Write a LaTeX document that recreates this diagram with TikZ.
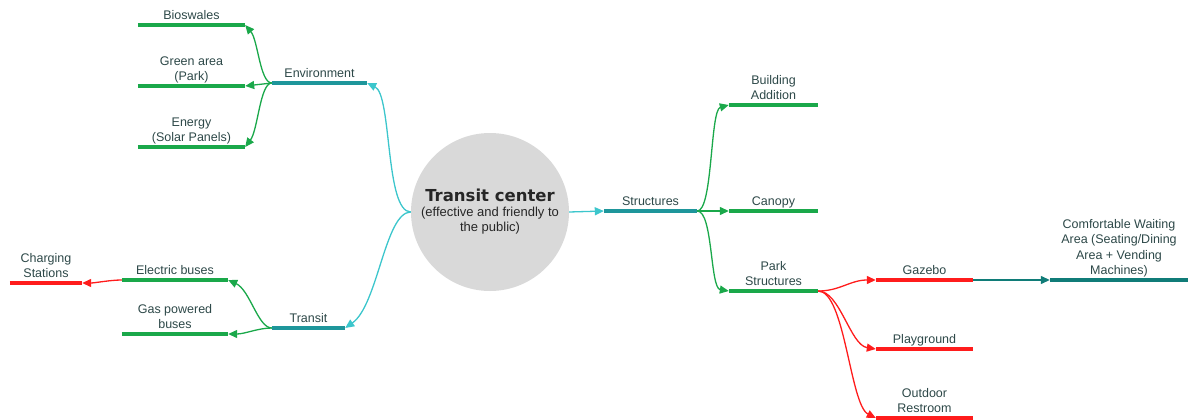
\documentclass[tikz,border=0pt]{standalone}
\usepackage{fontspec}
\setmainfont{Liberation Sans}
\newfontfamily\titlefont{DejaVu Sans}
\usetikzlibrary{arrows.meta}

\definecolor{branchgreen}{RGB}{26,168,74}
\definecolor{mainteal}{RGB}{30,150,155}
\definecolor{linkcyan}{RGB}{60,198,204}
\definecolor{deepteal}{RGB}{16,124,120}
\definecolor{leafred}{RGB}{255,28,28}
\definecolor{hubgray}{RGB}{217,217,217}
\definecolor{labeltext}{RGB}{45,72,72}

\begin{document}
\begin{tikzpicture}[
            x=1pt, y=-1pt,
            topic/.style 2 args={font=\fontsize{12.5}{15.5}\selectfont, text=labeltext, align=center,
                anchor=south, inner xsep=0pt, inner ysep=2pt, text depth=3pt, minimum width=#1,
                append after command={(\tikzlastnode.south west) edge[draw=#2, line width=4pt] (\tikzlastnode.south east)}},
            hub/.style={circle, fill=hubgray, minimum size=158pt, inner sep=0pt, align=center,
                text=black!85, font=\fontsize{13}{15}\selectfont},
            link/.style={-{Triangle[length=9pt,width=8pt]}, line width=1.3pt, draw=#1}
        ]
            \useasboundingbox (0,0) rectangle (1188,420);

            % Nodes
            \node[hub] (center) at (490,212) {{\titlefont\bfseries\fontsize{16.5}{19}\selectfont Transit center}\\(effective and friendly to\\the public)};

            \node[topic={95pt}{mainteal}] (env) at (319.5,83) {Environment};
            \node[topic={107pt}{branchgreen}] (bios) at (191.5,25) {Bioswales};
            \node[topic={107pt}{branchgreen}] (green) at (191.5,86) {Green area\\(Park)};
            \node[topic={107pt}{branchgreen}] (energy) at (191.5,147) {Energy\\(Solar Panels)};

            \node[topic={73pt}{mainteal}] (transit) at (308.5,328) {Transit};
            \node[topic={106pt}{branchgreen}] (elec) at (175,280) {Electric buses};
            \node[topic={106pt}{branchgreen}] (gas) at (175,334) {Gas powered\\buses};
            \node[topic={72pt}{leafred}] (charging) at (46,283) {Charging\\Stations};

            \node[topic={93pt}{mainteal}] (struct) at (650.5,211) {Structures};
            \node[topic={89pt}{branchgreen}] (building) at (773.5,105) {Building\\Addition};
            \node[topic={89pt}{branchgreen}] (canopy) at (773.5,211) {Canopy};
            \node[topic={89pt}{branchgreen}] (park) at (773.5,291) {Park\\Structures};

            \node[topic={97pt}{leafred}] (gazebo) at (924.5,280) {Gazebo};
            \node[topic={97pt}{leafred}] (playground) at (924.5,349) {Playground};
            \node[topic={97pt}{leafred}] (restroom) at (924.5,418) {Outdoor\\Restroom};
            \node[topic={138pt}{deepteal}] (comfort) at (1119,280) {Comfortable Waiting\\Area (Seating/Dining\\Area + Vending\\Machines)};

            % Arrows
            \draw[link=linkcyan] (center.west) .. controls (385,212) and (392,95) .. (env.south east);
            \draw[link=linkcyan] (center.west) .. controls (385,212) and (378,305) .. (transit.south east);
            \draw[link=linkcyan] (center.east) -- (struct.south west);

            \draw[link=branchgreen] (env.south west) .. controls (260,83) and (258,40) .. (bios.south east);
            \draw[link=branchgreen] (env.south west) -- (green.south east);
            \draw[link=branchgreen] (env.south west) .. controls (260,83) and (258,130) .. (energy.south east);

            \draw[link=branchgreen] (transit.south west) .. controls (258,328) and (250,290) .. (elec.south east);
            \draw[link=branchgreen] (transit.south west) .. controls (258,328) and (245,334) .. (gas.south east);
            \draw[link=leafred] (elec.south west) .. controls (110,280) and (95,283) .. (charging.south east);

            \draw[link=branchgreen] (struct.south east) .. controls (713,211) and (710,110) .. (building.south west);
            \draw[link=branchgreen] (struct.south east) -- (canopy.south west);
            \draw[link=branchgreen] (struct.south east) .. controls (713,211) and (710,288) .. (park.south west);

            \draw[link=leafred] (park.south east) .. controls (840,291) and (850,280) .. (gazebo.south west);
            \draw[link=leafred] (park.south east) .. controls (840,291) and (850,345) .. (playground.south west);
            \draw[link=leafred] (park.south east) .. controls (845,291) and (850,405) .. (restroom.south west);
            \draw[link=deepteal] (gazebo.south east) -- (comfort.south west);
        \end{tikzpicture}
\end{document}
